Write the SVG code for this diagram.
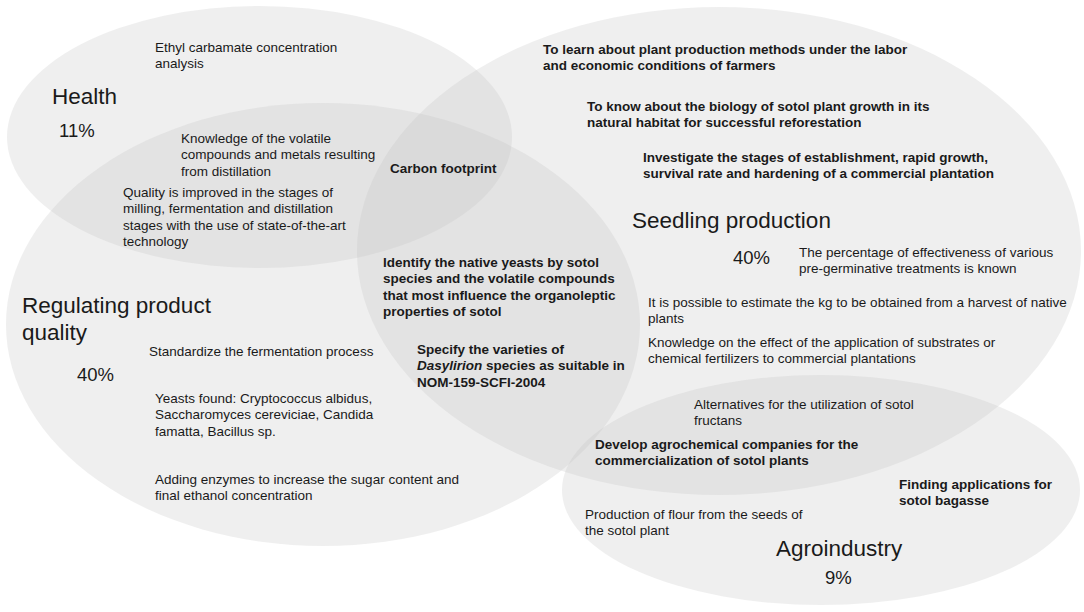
<svg xmlns="http://www.w3.org/2000/svg" width="1084" height="612" viewBox="0 0 1084 612">
<style>
.set{fill:#bfbfbf;fill-opacity:0.25;stroke:none}
text{font-family:"Liberation Sans",Arial,sans-serif;fill:#1a1a1a}
.t{font-size:13.5px}
.b{font-size:13.5px;font-weight:bold}
.h{font-size:22.5px}
.p{font-size:18.5px}
</style>
<rect width="1084" height="612" fill="#ffffff"/>
<g id="health">
<ellipse class="set" cx="259.5" cy="137" rx="252.5" ry="131"/>
</g>
<g id="regulating">
<ellipse class="set" cx="323" cy="324.5" rx="317" ry="221.5"/>
</g>
<g id="seedling">
<ellipse class="set" cx="719" cy="251" rx="362" ry="244"/>
</g>
<g id="agroindustry">
<ellipse class="set" cx="821" cy="490" rx="259" ry="115"/>
</g>
<g id="health-labels">
<text class="h" x="52" y="104">Health</text>
<text class="p" x="59" y="137">11%</text>
<text class="t" x="155" y="52">Ethyl carbamate concentration<tspan x="155" dy="16.3">analysis</tspan></text>
<text class="t" x="181" y="143">Knowledge of the volatile<tspan x="181" dy="16.3">compounds and metals resulting</tspan><tspan x="181" dy="16.3">from distillation</tspan></text>
<text class="b" x="390" y="173">Carbon footprint</text>
</g>
<g id="regulating-labels">
<text class="h" x="22" y="313">Regulating product<tspan x="22" dy="27">quality</tspan></text>
<text class="p" x="77" y="381">40%</text>
<text class="t" x="123" y="197">Quality is improved in the stages of<tspan x="123" dy="16.3">milling, fermentation and distillation</tspan><tspan x="123" dy="16.3">stages with the use of state-of-the-art</tspan><tspan x="123" dy="16.3">technology</tspan></text>
<text class="b" x="383" y="267">Identify the native yeasts by sotol<tspan x="383" dy="16.3">species and the volatile compounds</tspan><tspan x="383" dy="16.3">that most influence the organoleptic</tspan><tspan x="383" dy="16.3">properties of sotol</tspan></text>
<text class="t" x="149" y="356">Standardize the fermentation process</text>
<text class="b" x="417" y="354">Specify the varieties of<tspan x="417" dy="16.3" font-style="italic">Dasylirion</tspan><tspan> species as suitable in</tspan><tspan x="417" dy="16.3">NOM-159-SCFI-2004</tspan></text>
<text class="t" x="155" y="403">Yeasts found: Cryptococcus albidus,<tspan x="155" dy="16.3">Saccharomyces cereviciae, Candida</tspan><tspan x="155" dy="16.3">famatta, Bacillus sp.</tspan></text>
<text class="t" x="155" y="484">Adding enzymes to increase the sugar content and<tspan x="155" dy="16.3">final ethanol concentration</tspan></text>
</g>
<g id="seedling-labels">
<text class="h" x="632" y="228">Seedling production</text>
<text class="p" x="733" y="264">40%</text>
<text class="b" x="543" y="54">To learn about plant production methods under the labor<tspan x="543" dy="16.3">and economic conditions of farmers</tspan></text>
<text class="b" x="587" y="111">To know about the biology of sotol plant growth in its<tspan x="587" dy="16.3">natural habitat for successful reforestation</tspan></text>
<text class="b" x="643" y="162">Investigate the stages of establishment, rapid growth,<tspan x="643" dy="16.3">survival rate and hardening of a commercial plantation</tspan></text>
<text class="t" x="799" y="257">The percentage of effectiveness of various<tspan x="799" dy="16.3">pre-germinative treatments is known</tspan></text>
<text class="t" x="648" y="307">It is possible to estimate the kg to be obtained from a harvest of native<tspan x="648" dy="16.3">plants</tspan></text>
<text class="t" x="648" y="347">Knowledge on the effect of the application of substrates or<tspan x="648" dy="16.3">chemical fertilizers to commercial plantations</tspan></text>
</g>
<g id="agroindustry-labels">
<text class="h" x="776" y="556">Agroindustry</text>
<text class="p" x="825" y="584">9%</text>
<text class="t" x="694" y="409">Alternatives for the utilization of sotol<tspan x="694" dy="16.3">fructans</tspan></text>
<text class="b" x="595" y="449">Develop agrochemical companies for the<tspan x="595" dy="16.3">commercialization of sotol plants</tspan></text>
<text class="b" x="899" y="489">Finding applications for<tspan x="899" dy="16.3">sotol bagasse</tspan></text>
<text class="t" x="585" y="519">Production of flour from the seeds of<tspan x="585" dy="16.3">the sotol plant</tspan></text>
</g>
<g id="connectors"/>
</svg>
